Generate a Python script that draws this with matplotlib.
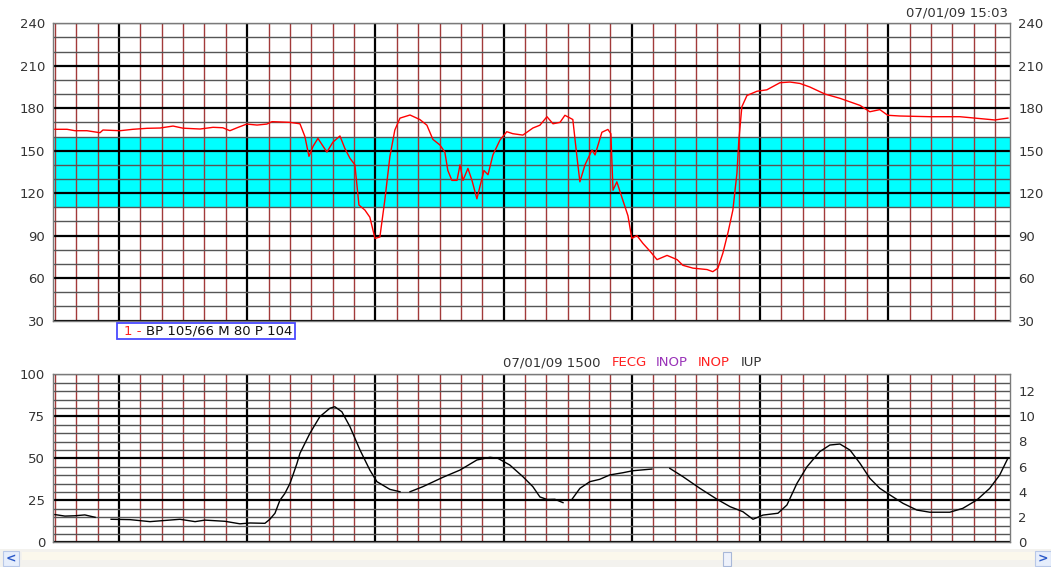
import numpy as np
import matplotlib
matplotlib.use("Agg")
import matplotlib.pyplot as plt
from matplotlib.ticker import MultipleLocator, FixedLocator
from matplotlib.patches import Rectangle

plt.rcParams['font.family'] = ['DejaVu Sans']

# ---- data -------------------------------------------------------------
# fetal heart rate (bpm) against time (s)
fhr_time = [0, 5.7, 9.4, 15, 21.1, 22.5, 30.5, 36.5, 43.1, 49.2, 55.3, 59.9, 67.9, 74,
            78.6, 81.9, 85.6, 89.8, 94.6, 99.2, 101.6, 110, 114.7, 117, 118.9, 120.8,
            123.1, 127.3, 130.1, 133.4, 135.7, 138.1, 140.4, 142.3, 145.1, 147.4, 149.8,
            152.1, 154.4, 156.8, 159.1, 161.5, 166.2, 170.8, 174.1, 176.9, 180.2, 182.5,
            183.9, 185.8, 188.2, 189.6, 191, 193.3, 195.2, 197.5, 198.9, 200.8, 202.7,
            205, 208.3, 211.5, 214.3, 219, 223.7, 227, 230.3, 233.1, 236.4, 238.7, 242.4,
            244.3, 245.7, 248.1, 251.4, 252.8, 256, 258.8, 260.2, 261.2, 263, 265.8,
            268.2, 270, 272.4, 275.2, 278.5, 281.8, 286.5, 291.2, 293.9, 298.6, 305.2,
            307.9, 310.3, 312.6, 315, 317.3, 319.2, 320.1, 321.5, 323.9, 328.6, 333.2,
            339.3, 344, 348.7, 353.3, 360.4, 367.4, 376.8, 381.4, 386.1, 389.8, 395.4,
            409.5, 423.5, 439.9, 446]
fhr_bpm = [165.1, 165.1, 164.1, 164.1, 162.7, 164.6, 164.1, 165.1, 165.8, 166, 167.4, 165.9,
           165.3, 166.5, 166.2, 164.1, 166.4, 168.8, 168.1, 168.8, 170.5, 170, 169, 160, 146,
           153, 158.7, 149, 156, 160.4, 151.6, 144.6, 140, 111.6, 108, 103, 88, 89, 115, 146,
           164.6, 173, 175.2, 172, 168, 158, 154, 149, 136, 129, 129, 140, 129, 137.5, 129,
           116, 124.5, 136, 133, 147, 157.5, 163.4, 162, 161, 166, 168, 174, 169, 170, 175,
           172, 146, 128, 140, 150.5, 147, 163, 165, 162, 122, 128, 115, 104, 88, 90, 84.5,
           79, 73, 76, 73, 69, 67, 66, 64.5, 67, 77.5, 92, 108, 134, 157.5, 181, 189, 192,
           193, 198, 198.5, 197.5, 195, 190, 187, 182, 177.5, 179, 175, 174.5, 174, 174,
           171.7, 173]

# intra-uterine pressure against time (s); NaN marks signal loss
iup_time = [0, 4.7, 9.4, 14, 18.8, 22, 26.3, 35.1, 44.5, 51.5, 58.5, 65.6, 70.2, 79.6, 86.6,
            91.3, 98.3, 100.6, 103, 105.3, 107.6, 110, 111.4, 113.3, 114.7, 119.4, 124,
            128.7, 131, 134.3, 138.1, 142.8, 147.4, 150.7, 156.8, 161.5, 164, 166.2, 172.2,
            181.6, 189.6, 197.5, 203.6, 207.3, 212.9, 219, 223.7, 227, 230.3, 234, 237.8,
            240, 242, 245.7, 250.4, 255, 259.7, 265.8, 270.5, 279.4, 283, 287.8, 293.9,
            301.9, 309.9, 316, 322, 326.7, 331.4, 338.4, 342.6, 347.3, 352, 358, 362.7,
            367.4, 372.1, 376.8, 381.4, 386.1, 390.8, 396.9, 403.4, 409.5, 418.8, 424.9,
            431.5, 437.5, 442.2, 446]
iup_mmhg = [16.5, 15.6, 15.8, 16.3, 14.9, np.nan, 13.7, 13.5, 12.3, 13, 13.7, 12.3, 13.2,
            12.5, 11, 11.5, 11.3, 13.7, 17.3, 25, 29, 35, 40, 47, 53, 65, 74.8, 79.8, 80.7,
            77.7, 68.8, 54.9, 43, 36.1, 31.5, 30.1, np.nan, 30.1, 33.1, 38.7, 43, 49, 50.6,
            50, 46, 39.1, 33.1, 27, 25.5, 25.6, 23.6, np.nan, 25.6, 32.1, 36.1, 37.5, 40.1,
            41.4, 42.6, 43.6, np.nan, 44, 39.1, 32.1, 25.6, 21.2, 18.2, 13.7, 16.2, 17.3,
            22.2, 35.1, 45, 54, 57.9, 58.5, 54.9, 47, 38.1, 32.1, 28.2, 23.2, 19.2, 17.9,
            17.9, 20.2, 25.2, 32.1, 40.1, 50]

fhr_ticks = [30, 60, 90, 120, 150, 180, 210, 240]
iup_ticks = [0, 25, 50, 75, 100]
kpa_ticks = [0, 2, 4, 6, 8, 10, 12]
normal_band = (110, 160)

timestamp = "07/01/09 15:03"
status_parts = [("07/01/09 1500", "#333333"), ("FECG", "#ff2020"),
                ("INOP", "#9932b8"), ("INOP", "#ff2020"), ("IUP", "#333333")]
status_x = [503, 612, 656, 698, 741]

# ---- figure -----------------------------------------------------------
W, H = 1051, 567
fig = plt.figure(figsize=(W / 100, H / 100), dpi=100)
fig.patch.set_facecolor("white")

def fx(px):
    return px / W

def fy(py):
    return 1 - py / H

XL, XR = 53.4, 1010.0
xlim = (-0.7, 447.0)
TEXT = "#333333"
MINOR_V = "#a23a3a"
MINOR_H = "#555555"


def style_grid(ax, ymajor, yminor):
    ax.set_xlim(*xlim)
    ax.xaxis.set_major_locator(MultipleLocator(60, offset=30))
    ax.xaxis.set_minor_locator(MultipleLocator(10))
    ax.yaxis.set_major_locator(FixedLocator(ymajor))
    ax.yaxis.set_minor_locator(MultipleLocator(yminor))
    ax.set_axisbelow("line")
    ax.grid(which="major", axis="both", color="black", lw=1.6)
    ax.grid(which="minor", axis="x", color=MINOR_V, lw=1.0)
    ax.grid(which="minor", axis="y", color=MINOR_H, lw=1.0)
    ax.tick_params(which="both", length=0)
    ax.tick_params(axis="x", labelbottom=False)
    ax.tick_params(axis="y", labelsize=9.5, labelcolor=TEXT, pad=6)
    for s in ax.spines.values():
        s.set_color("#7a7a7a")
        s.set_linewidth(1.0)


# top panel: heart rate
ax1 = fig.add_axes([fx(XL), fy(320.5), fx(XR - XL), (320.5 - 23.3) / H])
ax1.set_ylim(30, 240)
style_grid(ax1, fhr_ticks, 10)
ax1.tick_params(axis="y", labelright=True)
ax1.axhspan(*normal_band, color="#00ffff", zorder=1, lw=0)
ax1.plot(fhr_time, fhr_bpm, color="#ff0000", lw=1.0, zorder=3)

fig.text(fx(1008), fy(13), timestamp, ha="right", va="center",
         fontsize=9.5, color=TEXT)

# measurement box under the top panel
fig.add_artist(Rectangle((fx(117.3), fy(339)), fx(295 - 117.3), 15.7 / H,
                         transform=fig.transFigure, fill=False,
                         edgecolor="#4a4aff", lw=1.3))
fig.text(fx(124), fy(331.5), "1 -", color="#ff2020", fontsize=9.5,
         ha="left", va="center")
fig.text(fx(145.5), fy(331.5), "BP 105/66 M 80 P 104", color="#111111",
         fontsize=9.5, ha="left", va="center")

# status line above the bottom panel
for (txt, col), x in zip(status_parts, status_x):
    fig.text(fx(x), fy(363), txt, color=col, fontsize=9.5, ha="left", va="center")

# bottom panel: uterine pressure
ax2 = fig.add_axes([fx(XL), fy(542.3), fx(XR - XL), (542.3 - 374.3) / H])
ax2.set_ylim(0, 100)
style_grid(ax2, iup_ticks, 5)
ax2.plot(iup_time, iup_mmhg, color="black", lw=1.0, zorder=3)

ax3 = ax2.twinx()
ax3.set_ylim(0, 100 * 10 / 75)
ax3.set_yticks(kpa_ticks)
ax3.tick_params(length=0, labelsize=9.5, labelcolor=TEXT, pad=6)
for s in ax3.spines.values():
    s.set_visible(False)

# horizontal scroll bar along the bottom edge
fig.add_artist(Rectangle((0, 0), 1, fy(549), transform=fig.transFigure,
                         facecolor="#f3f2ee", edgecolor="none"))
fig.add_artist(Rectangle((fx(22), fy(560)), fx(1020), 8 / H, transform=fig.transFigure,
                         facecolor="#fbf8ec", edgecolor="none"))
fig.add_artist(Rectangle((fx(3), fy(566)), fx(16), 15 / H, transform=fig.transFigure,
                         facecolor="#e6eefc", edgecolor="#b8c8e8", lw=0.8))
fig.add_artist(Rectangle((fx(1035), fy(566)), fx(16), 15 / H, transform=fig.transFigure,
                         facecolor="#e6eefc", edgecolor="#b8c8e8", lw=0.8))
fig.text(fx(11), fy(558.5), "<", color="#2a58c8", fontsize=9, weight="bold",
         ha="center", va="center")
fig.text(fx(1043), fy(558.5), ">", color="#2a58c8", fontsize=9, weight="bold",
         ha="center", va="center")
fig.add_artist(Rectangle((fx(723), fy(566)), fx(8), 14 / H, transform=fig.transFigure,
                         facecolor="#eef2fb", edgecolor="#a8b8d8", lw=0.8))

fig.savefig("out.png", dpi=100)
